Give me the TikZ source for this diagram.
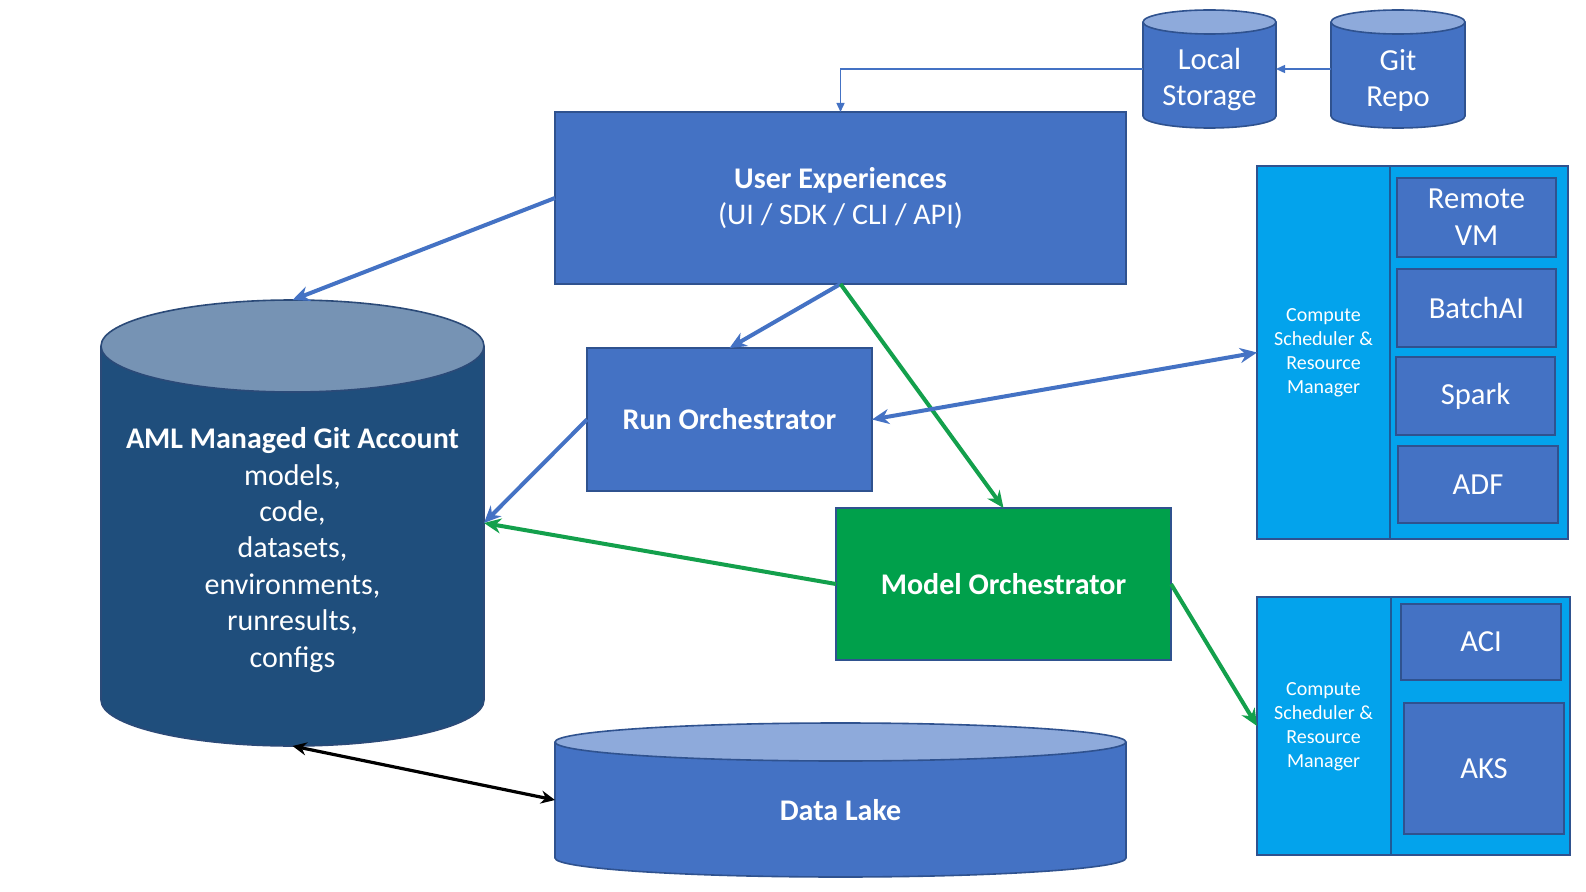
\documentclass[tikz,border=0pt]{standalone}
\usepackage{fontspec}
\setmainfont{Carlito}
\usetikzlibrary{arrows.meta}
\definecolor{boxblue}{HTML}{4472C4}
\definecolor{edgeblue}{HTML}{2F528F}
\definecolor{skyblue}{HTML}{03A3EC}
\definecolor{mgreen}{HTML}{00A04B}
\definecolor{amlbody}{HTML}{1F4E7C}
\definecolor{amltop}{HTML}{7693B4}
\definecolor{amledge}{HTML}{2B4A78}
\definecolor{cyltop}{HTML}{8EAADB}
\definecolor{arrowgreen}{HTML}{13A04C}
\definecolor{divblue}{HTML}{1F5A96}
\begin{document}
\begin{tikzpicture}[x=0.5pt,y=0.5pt,
  bluebox/.style={draw=edgeblue, fill=boxblue, line width=0.8pt, inner sep=0pt, outer sep=0pt,
    text=white, align=center, font=\fontsize{15pt}{18.2pt}\selectfont},
  greenbox/.style={bluebox, fill=mgreen},
  skybox/.style={draw=edgeblue, fill=skyblue, line width=0.8pt, inner sep=0pt, outer sep=0pt},
  cellbox/.style={bluebox, line width=1pt, font=\fontsize{15.3pt}{18.5pt}\selectfont},
  smalltext/.style={text=white, align=center, font=\fontsize{10pt}{12pt}\selectfont},
  cyltext/.style={text=white, align=center, font=\fontsize{15.3pt}{18pt}\selectfont},
  shapebox/.style={inner sep=0pt, outer sep=0pt},
  cylbody/.style={fill=boxblue},
  cylline/.style={draw=edgeblue, line width=0.8pt},
  bluearrow/.style={draw=boxblue, line width=2pt, -{Stealth[length=8.5pt,width=7.5pt]}},
  greenarrow/.style={draw=arrowgreen, line width=2pt, -{Stealth[length=8.5pt,width=7.5pt]}},
  blackarrow/.style={draw=black, line width=1.6pt, {Stealth[length=7pt,width=6.5pt]}-{Stealth[length=7pt,width=6.5pt]}},
  thinarrow/.style={draw=boxblue, line width=0.7pt, -{Triangle[length=4.5pt,width=4pt]}}
]
\fill[white] (0,0) rectangle (1586,891);
\useasboundingbox (0,0) rectangle (1586,891);

% ---- Local Storage cylinder
\fill[cylbody] (1143,869) -- (1143,775) arc[start angle=180,end angle=360,x radius=66.5,y radius=12] -- (1276,869) -- cycle;
\draw[cylline] (1143,869) -- (1143,775) arc[start angle=180,end angle=360,x radius=66.5,y radius=12] -- (1276,869);
\filldraw[fill=cyltop, cylline] (1209.5,869) ellipse [x radius=66.5, y radius=12];
\node (ls) [shapebox, minimum width=66.5pt, minimum height=59pt] at (1209.5,822) {};
\node [cyltext] at (1209.5,811) {Local\\Storage};

% ---- Git Repo cylinder
\fill[cylbody] (1331,869) -- (1331,775) arc[start angle=180,end angle=360,x radius=67,y radius=12] -- (1465,869) -- cycle;
\draw[cylline] (1331,869) -- (1331,775) arc[start angle=180,end angle=360,x radius=67,y radius=12] -- (1465,869);
\filldraw[fill=cyltop, cylline] (1398,869) ellipse [x radius=67, y radius=12];
\node (git) [shapebox, minimum width=67pt, minimum height=59pt] at (1398,822) {};
\node [cyltext] at (1398,811) {Git\\Repo};

% ---- AML cylinder
\fill[amlbody] (101,545) -- (101,191) arc[start angle=180,end angle=360,x radius=191.5,y radius=46] -- (484,545) -- cycle;
\draw[draw=amledge, line width=0.8pt] (101,545) -- (101,191) arc[start angle=180,end angle=360,x radius=191.5,y radius=46] -- (484,545);
\filldraw[fill=amltop, draw=amledge, line width=0.8pt] (292.5,545) ellipse [x radius=191.5, y radius=46];
\node (aml) [shapebox, minimum width=191.5pt, minimum height=223pt] at (292.5,368) {};
\node [cyltext, font=\fontsize{15pt}{18.2pt}\selectfont] at (292.5,341)
  {{\bfseries AML Managed Git Account}\\models,\\code,\\datasets,\\environments,\\runresults,\\configs};

% ---- Data Lake cylinder
\fill[cylbody] (555,149) -- (555,33) arc[start angle=180,end angle=360,x radius=285.5,y radius=19] -- (1126,149) -- cycle;
\draw[cylline] (555,149) -- (555,33) arc[start angle=180,end angle=360,x radius=285.5,y radius=19] -- (1126,149);
\filldraw[fill=cyltop, cylline] (840.5,149) ellipse [x radius=285.5, y radius=19];
\node (dl) [shapebox, minimum width=285.5pt, minimum height=77pt] at (840.5,91) {};
\node [cyltext, font=\fontsize{15pt}{18pt}\selectfont\bfseries] at (840.5,81) {Data Lake};

% ---- Main boxes
\node (ux) [bluebox, minimum width=285.5pt, minimum height=86pt] at (840.5,693)
  {{\bfseries User Experiences}\\(UI / SDK / CLI / API)};
\node (ro) [bluebox, minimum width=142.5pt, minimum height=71.5pt] at (729.5,471.5)
  {\bfseries Run Orchestrator};
\node (mo) [greenbox, minimum width=167.5pt, minimum height=76pt] at (1003.5,307)
  {\bfseries Model Orchestrator};

% ---- Compute panel 1
\node (cp1) [skybox, minimum width=155.5pt, minimum height=186.5pt] at (1412.5,538.5) {};
\draw[divblue, line width=0.8pt] (1390,725) -- (1390,352);
\node (cs1) [smalltext] at (1323.5,538) {Compute\\Scheduler \&\\Resource\\Manager};
\node (vm) [cellbox, minimum width=79.5pt, minimum height=39.5pt] at (1476.5,673.5) {Remote\\VM};
\node (bai) [cellbox, minimum width=79.5pt, minimum height=39pt] at (1476.5,583) {BatchAI};
\node (spk) [cellbox, minimum width=79.5pt, minimum height=39pt] at (1475.5,495) {Spark};
\node (adf) [cellbox, minimum width=80pt, minimum height=38.5pt] at (1478,406.5) {ADF};

% ---- Compute panel 2
\node (cp2) [skybox, minimum width=156.5pt, minimum height=129pt] at (1413.5,165) {};
\draw[divblue, line width=0.8pt] (1391,294) -- (1391,36);
\node (cs2) [smalltext] at (1323.5,164.5) {Compute\\Scheduler \&\\Resource\\Manager};
\node (aci) [cellbox, minimum width=80pt, minimum height=38pt] at (1481,249) {ACI};
\node (aks) [cellbox, minimum width=80pt, minimum height=65.5pt] at (1484,122.5) {AKS};

% ---- Connectors
\draw[thinarrow] (git.west) -- (ls.east);
\draw[thinarrow] (ls.west) -| (ux.north);
\draw[bluearrow] (ux.west) -- (aml.north);
\draw[bluearrow] (ux.south) -- (ro.north);
\draw[greenarrow] (ux.south) -- (mo.north);
\draw[bluearrow] (ro.west) -- (aml.east);
\draw[greenarrow] (mo.west) -- (aml.east);
\draw[bluearrow, {Stealth[length=8.5pt,width=7.5pt]}-{Stealth[length=8.5pt,width=7.5pt]}] (ro.east) -- (cp1.west);
\draw[greenarrow] (mo.east) -- (cp2.west);
\draw[blackarrow] (aml.south) -- (dl.west);
\end{tikzpicture}
\end{document}
